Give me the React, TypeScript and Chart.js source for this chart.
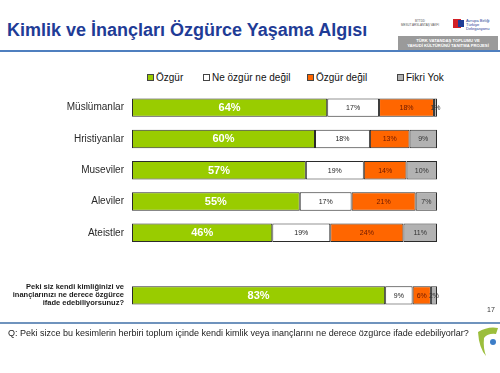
import React, { useEffect, useRef } from "react";
import { Chart, registerables } from "chart.js";

Chart.register(...registerables);

const categories: (string | string[])[] = [
  "Müslümanlar",
  "Hristiyanlar",
  "Museviler",
  "Aleviler",
  "Ateistler",
  "",
  ["Peki siz kendi kimliğinizi ve", "inançlarınızı ne derece özgürce", "ifade edebiliyorsunuz?"],
];
const seriesNames = ["Özgür", "Ne özgür ne değil", "Özgür değil", "Fikri Yok"];
const ozgur = [64, 60, 57, 55, 46, null, 83];
const neOzgurNeDegil = [17, 18, 19, 17, 19, null, 9];
const ozgurDegil = [18, 13, 14, 21, 24, null, 6];
const fikriYok = [1, 9, 10, 7, 11, null, 2];
const seriesColors = ["#99CC00", "#FFFFFF", "#FF6600", "#B2B2B2"];
const labelColors = ["#FFFFFF", "#222222", "#6a1800", "#333333"];

const valueLabels = {
  id: "valueLabels",
  afterDatasetsDraw(chart: any) {
    const ctx = chart.ctx;
    chart.data.datasets.forEach((ds: any, di: number) => {
      const meta = chart.getDatasetMeta(di);
      meta.data.forEach((el: any, i: number) => {
        const v = ds.data[i];
        if (v == null) return;
        const p = el.getProps(["x", "y", "base"], true);
        const cx = (p.x + p.base) / 2;
        ctx.save();
        ctx.textAlign = "center";
        ctx.textBaseline = "middle";
        if (di === 0) {
          ctx.font = "bold 11px Arial, 'Liberation Sans', sans-serif";
        } else {
          ctx.font = "7px Arial, 'Liberation Sans', sans-serif";
        }
        ctx.fillStyle = labelColors[di];
        ctx.fillText(v + "%", cx, p.y + 0.5);
        ctx.restore();
      });
    });
  },
};

function ChartBox() {
  const ref = useRef<HTMLCanvasElement>(null);
  useEffect(() => {
    if (!ref.current) return;
    const data = [ozgur, neOzgurNeDegil, ozgurDegil, fikriYok];
    const chart = new Chart(ref.current, {
      type: "bar",
      data: {
        labels: categories,
        datasets: seriesNames.map((n, i) => ({
          label: n,
          data: data[i],
          backgroundColor: seriesColors[i],
          borderColor: "#2b2b2b",
          borderWidth: 1,
          borderSkipped: false,
          categoryPercentage: 1,
          barPercentage: 0.59,
        })),
      },
      options: {
        indexAxis: "y",
        animation: false,
        responsive: false,
        maintainAspectRatio: false,
        layout: { padding: { left: 0, right: 63, top: 2, bottom: 3 } },
        plugins: { legend: { display: false }, tooltip: { enabled: false } },
        scales: {
          x: { stacked: true, min: 0, max: 100, display: false },
          y: {
            stacked: true,
            grid: { display: false, drawTicks: false },
            border: { display: false },
            afterFit: (s: any) => {
              s.width = 132;
              s.paddingTop = 0;
              s.paddingBottom = 0;
            },
            ticks: {
              padding: 8,
              color: (c: any) => (c.index === 6 ? "#1a1a1a" : "#2a2a2a"),
              font: (c: any) =>
                c.index === 6
                  ? { family: "Arial, 'Liberation Sans', sans-serif", size: 7.5, weight: "bold", lineHeight: 8 / 7.5 }
                  : { family: "Arial, 'Liberation Sans', sans-serif", size: 10, weight: "normal" },
            },
          },
        },
      },
      plugins: [valueLabels],
    });
    return () => chart.destroy();
  }, []);
  return (
    <canvas
      ref={ref}
      width={500}
      height={224}
      style={{ position: "absolute", left: 0, top: 90, width: 500, height: 224 }}
    />
  );
}

const legendPos = [147, 203, 307, 397];

export default function App() {
  const font = "Arial, 'Liberation Sans', sans-serif";
  return (
    <div
      style={{
        position: "absolute",
        left: 0,
        top: 0,
        width: 500,
        height: 373,
        background: "#fff",
        overflow: "hidden",
        fontFamily: font,
      }}
    >
      <div
        style={{
          position: "absolute",
          left: 7,
          top: 20,
          fontSize: 18,
          fontWeight: "bold",
          color: "#1F3C96",
          whiteSpace: "nowrap",
        }}
      >
        Kimlik ve İnançları Özgürce Yaşama Algısı
      </div>
      {/* top-right logos */}
      <div style={{ position: "absolute", left: 400, top: 19, fontSize: 3, color: "#555", textAlign: "center", width: 40, lineHeight: "4px" }}>
        <div>BTTDD</div>
        <div>MESUT ARSLANTAŞ VAKFI</div>
      </div>
      <div style={{ position: "absolute", left: 453, top: 19, width: 8, height: 9, background: "#d21f26" }} />
      <div style={{ position: "absolute", left: 458, top: 20, width: 6, height: 7, background: "#1f3c96" }} />
      <div style={{ position: "absolute", left: 466, top: 19, fontSize: 4, color: "#1f3c96", lineHeight: "4px" }}>
        <div>Avrupa Birliği</div>
        <div>Türkiye Delegasyonu</div>
      </div>
      <div
        style={{
          position: "absolute",
          left: 398,
          top: 36,
          width: 100,
          height: 14,
          background: "#9a9a9a",
          color: "#fff",
          fontSize: 4.2,
          fontWeight: "bold",
          textAlign: "center",
          lineHeight: "5px",
          paddingTop: 2,
          boxSizing: "border-box",
        }}
      >
        <div>TÜRK VATANDAŞ TOPLUMU VE</div>
        <div>YAHUDİ KÜLTÜRÜNÜ TANITMA PROJESİ</div>
      </div>
      <div style={{ position: "absolute", left: 0, top: 50, width: 500, height: 2, background: "#4F7FBF" }} />
      {/* legend */}
      {seriesNames.map((n, i) => (
        <div
          key={n}
          style={{
            position: "absolute",
            left: legendPos[i],
            top: 71,
            height: 13,
            display: "flex",
            alignItems: "center",
            fontSize: 10,
            color: "#111",
            whiteSpace: "nowrap",
          }}
        >
          <span
            style={{
              display: "inline-block",
              width: 5,
              height: 5,
              background: seriesColors[i],
              border: "1px solid #444",
              marginRight: 2,
            }}
          />
          {n}
        </div>
      ))}
      <ChartBox />
      <div style={{ position: "absolute", left: 487, top: 306, fontSize: 7, color: "#333" }}>17</div>
      <div style={{ position: "absolute", left: 0, top: 322, width: 500, height: 1.5, background: "#6F93BD" }} />
      <div
        style={{
          position: "absolute",
          left: 8,
          top: 328,
          fontSize: 9,
          color: "#222",
          whiteSpace: "nowrap",
        }}
      >
        Q: Peki sizce bu kesimlerin herbiri toplum içinde kendi kimlik veya inançlarını ne derece özgürce ifade edebiliyorlar?
      </div>
      <svg style={{ position: "absolute", left: 476, top: 326 }} width={24} height={34}>
        <path d="M2 6 Q12 0 22 2 L20 8 Q12 7 8 12 Q7 22 10 30 Q3 22 2 6 Z" fill="#9CBE3C" />
        <circle cx={17} cy={16} r={3} fill="#3C7DC8" />
      </svg>
    </div>
  );
}
